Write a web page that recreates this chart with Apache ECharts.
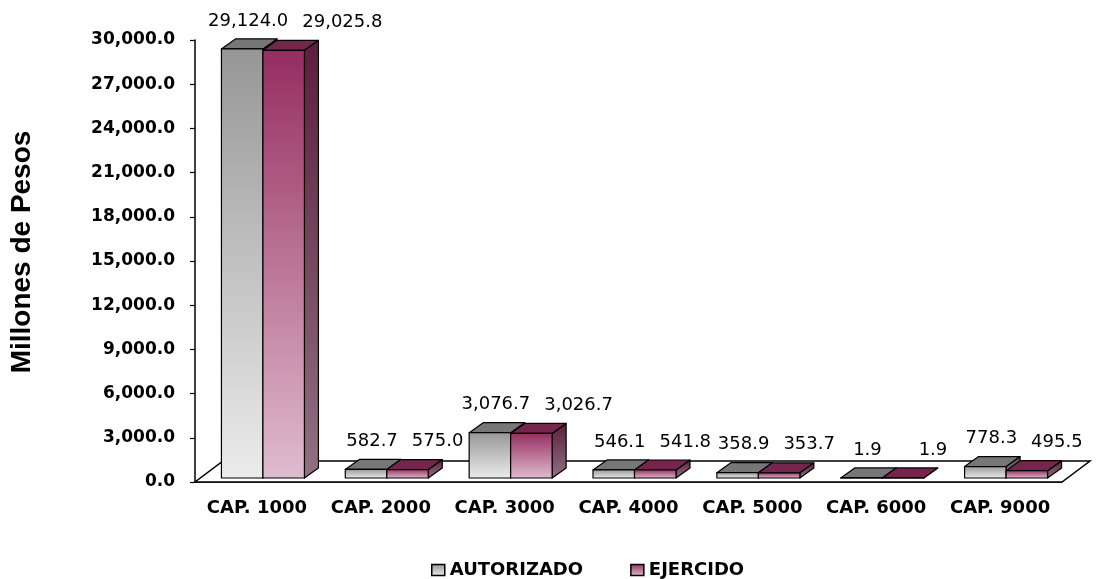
<!DOCTYPE html>
<html>
<head>
<meta charset="utf-8">
<script src="https://cdn.jsdelivr.net/npm/echarts@6/dist/echarts.min.js"></script>
<style>html,body{margin:0;padding:0;background:#fff;}#c{width:1110px;height:579px;}</style>
</head>
<body>
<div id="c"></div>
<script>
const categories = ['CAP. 1000', 'CAP. 2000', 'CAP. 3000', 'CAP. 4000', 'CAP. 5000', 'CAP. 6000', 'CAP. 9000'];
const autorizado = [29124.0, 582.7, 3076.7, 546.1, 358.9, 1.9, 778.3];
const ejercido = [29025.8, 575.0, 3026.7, 541.8, 353.7, 1.9, 495.5];
const seriesNames = ['AUTORIZADO', 'EJERCIDO'];
const yMin = 0, yMax = 30000, yInterval = 3000;

const FONT = '"DejaVu Sans", sans-serif';
const fmt = v => v.toLocaleString('en-US', {minimumFractionDigits: 1, maximumFractionDigits: 1});

const cv = document.createElement('canvas').getContext('2d');
cv.font = '18px "DejaVu Sans"';
const tw = s => cv.measureText(s).width;

const G = echarts.graphic;
const grad = (c1, c2) => new G.LinearGradient(0, 0, 0, 1, [{offset: 0, color: c1}, {offset: 1, color: c2}]);
const palette = [
  {front: ['#969696', '#ececec'], top: '#777777', side: ['#505050', '#8c8c8c']},
  {front: ['#962d60', '#e0bccf'], top: '#74264c', side: ['#5c1e3c', '#907284']}
];
const DX = 14, DY = 10, SHIFTX = 6, SHIFTY = 4;

function barRender(s, values) {
  return function (params, api) {
    const idx = api.value(0);
    const val = api.value(1);
    const band = api.size([1, 0])[0];
    const w = band * 0.335;
    const c = api.coord([idx, val]);
    const b = api.coord([idx, 0]);
    const x0 = c[0] + SHIFTX + (s === 0 ? -w : 0);
    const x1 = x0 + w;
    const yT = c[1] - SHIFTY;
    const yB = b[1] - SHIFTY;
    const p = palette[s];
    const stroke = {stroke: '#000', lineWidth: 1.2, lineJoin: 'round'};
    const grayCenter = c[0] + SHIFTX - w / 2 + 6;
    let lx;
    if (s === 0) {
      lx = grayCenter;
    } else {
      const wg = tw(fmt(autorizado[idx]));
      const wp = tw(fmt(val));
      lx = Math.max(x0 + w / 2 + 30, grayCenter + wg / 2 + 14 + wp / 2);
    }
    return {
      type: 'group',
      children: [
        {type: 'polygon', shape: {points: [[x1, yT], [x1 + DX, yT - DY], [x1 + DX, yB - DY], [x1, yB]]},
          style: Object.assign({fill: grad(p.side[0], p.side[1])}, stroke)},
        {type: 'polygon', shape: {points: [[x0, yT], [x1, yT], [x1 + DX, yT - DY], [x0 + DX, yT - DY]]},
          style: Object.assign({fill: p.top}, stroke)},
        {type: 'rect', shape: {x: x0, y: yT, width: w, height: Math.max(yB - yT, 0)},
          style: Object.assign({fill: grad(p.front[0], p.front[1])}, stroke)},
        {type: 'text', x: lx, y: yT - DY - 18,
          style: {text: fmt(val), font: '18px ' + FONT, fill: '#000', align: 'center', verticalAlign: 'middle'}}
      ]
    };
  };
}

const option = {
  animation: false,
  backgroundColor: '#ffffff',
  grid: {left: 195, top: 40, width: 867, height: 442},
  legend: {
    data: seriesNames,
    left: 431, top: 561, padding: 0,
    icon: 'rect', itemWidth: 13, itemHeight: 11, itemGap: 47,
    itemStyle: {borderColor: '#000', borderWidth: 1.5},
    textStyle: {fontFamily: FONT, fontWeight: 'bold', fontSize: 18, color: '#000'}
  },
  xAxis: {
    type: 'category', data: categories,
    axisLine: {lineStyle: {color: '#000', width: 1.5}},
    axisTick: {length: 6, lineStyle: {color: '#000', width: 1.2}},
    axisLabel: {interval: 0, margin: 17, color: '#000', fontFamily: FONT, fontWeight: 'bold', fontSize: 18}
  },
  yAxis: {
    type: 'value', min: yMin, max: yMax, interval: yInterval,
    splitLine: {show: false},
    axisLine: {show: true, lineStyle: {color: '#000', width: 1.5}},
    axisTick: {show: true, length: 5, lineStyle: {color: '#000', width: 1.2}},
    axisLabel: {margin: 20, color: '#000', fontFamily: FONT, fontWeight: 'bold', fontSize: 17, formatter: v => fmt(v)}
  },
  graphic: [{
    type: 'text', x: 22, y: 252, rotation: Math.PI / 2,
    style: {text: 'Millones de Pesos', font: 'bold 28px "Liberation Sans", Arial, sans-serif', fill: '#000', align: 'center', verticalAlign: 'middle'}
  }],
  series: [
    {
      type: 'custom', name: 'floor', silent: true, z: 1,
      data: [[0, 0]],
      renderItem: function (params, api) {
        const cs = params.coordSys;
        const yb = cs.y + cs.height;
        return {
          type: 'polygon',
          shape: {points: [[cs.x, yb], [cs.x + cs.width, yb], [cs.x + cs.width + 28, yb - 21], [cs.x + 28, yb - 21]]},
          style: {fill: '#fff', stroke: '#000', lineWidth: 1.5}
        };
      }
    },
    {
      type: 'custom', name: seriesNames[0], z: 3,
      itemStyle: {color: grad(palette[0].front[0], palette[0].front[1])},
      data: autorizado.map((v, i) => [i, v]),
      encode: {x: 0, y: 1},
      renderItem: barRender(0, autorizado)
    },
    {
      type: 'custom', name: seriesNames[1], z: 4,
      itemStyle: {color: grad(palette[1].front[0], palette[1].front[1])},
      data: ejercido.map((v, i) => [i, v]),
      encode: {x: 0, y: 1},
      renderItem: barRender(1, ejercido)
    }
  ]
};

const chart = echarts.init(document.getElementById('c'), null, {renderer: 'canvas'});
chart.setOption(option);
</script>
</body>
</html>
